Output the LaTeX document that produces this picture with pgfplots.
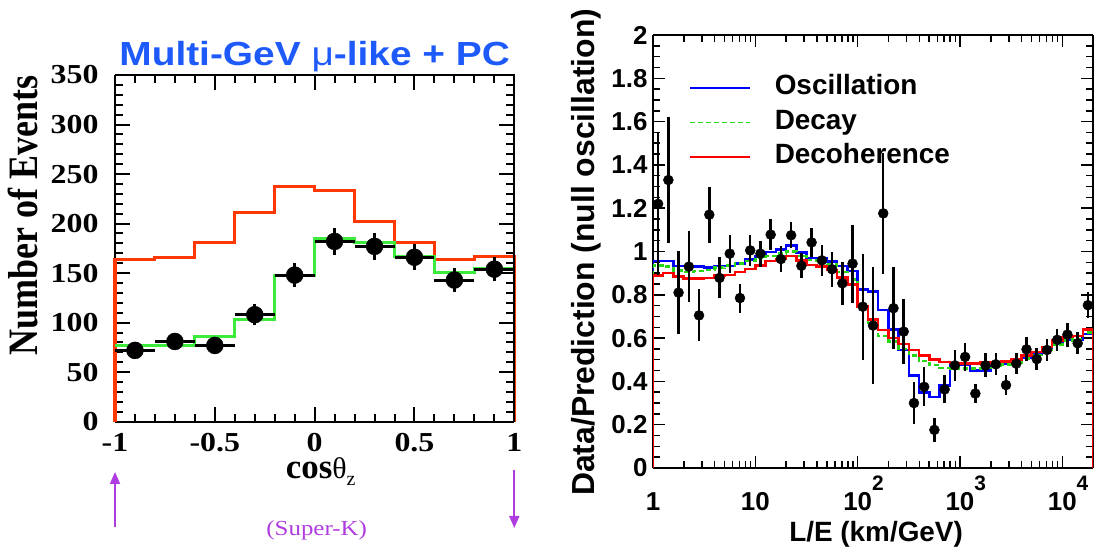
\documentclass[border=0pt]{standalone}
\usepackage{fontspec}
\setmainfont{Liberation Serif}
\setsansfont{Liberation Sans}
\usepackage{pgfplots}
\usepackage{pgfplotstable}
\pgfplotsset{compat=1.18}
\usetikzlibrary{arrows.meta}
\definecolor{titleblue}{RGB}{30,90,250}
\definecolor{kpurple}{RGB}{175,60,225}
\definecolor{lred}{RGB}{255,55,0}
\definecolor{lgreen}{RGB}{60,235,60}
\definecolor{rgreen}{RGB}{40,215,20}
\newcommand{\sq}[1]{\scalebox{1}[0.86]{#1}}

\pgfplotstableread{
x y ex ey
-0.9 72 0.1 8.5
-0.7 81 0.1 9.0
-0.5 77 0.1 8.8
-0.3 108 0.1 10.4
-0.1 148 0.1 12.2
0.1 182 0.1 13.5
0.3 177 0.1 13.3
0.5 166 0.1 12.9
0.7 143 0.1 12.0
0.9 154 0.1 12.4
}\leftdata

\pgfplotstableread{
x v
-1 0
-1 164
-0.8 166
-0.6 181
-0.4 211
-0.2 237
0 233
0.2 202
0.4 181
0.6 164
0.8 167
1 167
1 0
}\leftred

\pgfplotstableread{
x v
-1 77
-0.8 77
-0.6 86
-0.4 103
-0.2 148
0 185
0.2 181
0.4 167
0.6 151
0.8 155
1 155
}\leftgreen

\pgfplotstableread{
x y ey
1.122 1.22 0.33
1.413 1.33 0.29
1.778 0.81 0.19
2.239 0.93 0.165
2.818 0.705 0.12
3.548 1.17 0.13
4.467 0.878 0.095
5.623 0.99 0.088
7.079 0.785 0.067
8.913 1.005 0.07
11.22 0.99 0.06
14.13 1.078 0.07
17.78 0.965 0.06
22.39 1.075 0.06
28.18 0.934 0.057
35.48 1.042 0.066
44.67 0.959 0.07
56.23 0.918 0.08
70.79 0.853 0.10
89.13 0.944 0.18
112.2 0.745 0.245
141.3 0.658 0.27
177.8 1.176 0.28
223.9 0.738 0.19
281.8 0.63 0.15
354.8 0.30 0.095
446.7 0.375 0.09
562.3 0.176 0.055
707.9 0.363 0.065
891.3 0.474 0.07
1122 0.513 0.065
1413 0.344 0.045
1778 0.474 0.055
2239 0.479 0.05
2818 0.383 0.045
3548 0.482 0.05
4467 0.548 0.055
5623 0.503 0.05
7079 0.545 0.05
8913 0.592 0.05
11220 0.616 0.055
14130 0.576 0.05
17780 0.752 0.06
}\rightdata

\pgfplotstableread{
x b g r
1 0 0 0
1 0.956 0.935 0.890
1.2589 0.956 0.930 0.900
1.5849 0.934 0.912 0.885
1.9953 0.934 0.905 0.875
2.5119 0.930 0.910 0.875
3.1623 0.926 0.915 0.878
3.9811 0.934 0.925 0.890
5.0119 0.934 0.935 0.892
6.3096 0.945 0.945 0.905
7.9433 0.964 0.955 0.920
10 0.980 0.970 0.935
12.589 0.997 0.980 0.955
15.849 1.010 0.990 0.965
19.953 1.027 1.000 0.980
25.119 0.995 0.980 0.958
31.623 0.970 0.960 0.937
39.811 0.970 0.955 0.930
50.119 0.953 0.940 0.915
63.096 0.934 0.905 0.880
79.433 0.910 0.870 0.848
100 0.824 0.745 0.745
125.89 0.816 0.670 0.685
158.49 0.730 0.610 0.637
199.53 0.639 0.585 0.600
251.19 0.545 0.550 0.572
316.23 0.427 0.520 0.546
398.11 0.349 0.495 0.520
501.19 0.328 0.475 0.500
630.96 0.380 0.462 0.490
794.33 0.482 0.460 0.485
1000 0.479 0.460 0.482
1258.9 0.451 0.460 0.482
1584.9 0.451 0.462 0.487
1995.3 0.470 0.470 0.490
2511.9 0.482 0.478 0.492
3162.3 0.490 0.488 0.500
3981.1 0.510 0.505 0.520
5011.9 0.529 0.522 0.535
6309.6 0.548 0.548 0.560
7943.3 0.576 0.570 0.590
10000 0.592 0.588 0.605
12589 0.592 0.596 0.610
15849 0.620 0.625 0.640
19953 0.620 0.625 0.640
19953 0 0 0
}\righthist

\begin{document}
\begin{tikzpicture}
\path[use as bounding box] (0,0) rectangle (1096bp,558bp);

% ---------------- left panel ----------------
\begin{axis}[
  at={(115bp,136.3bp)}, anchor=south west,
  scale only axis, width=399.3bp, height=346.7bp,
  xmin=-1, xmax=1, ymin=0, ymax=350,
  axis x line*=bottom, axis y line*=left,
  xtick={-1,-0.5,0,0.5,1},
  xticklabels={\sq{-1},\sq{-0.5},\sq{0},\sq{0.5},\sq{1}},
  ytick={0,50,100,150,200,250,300,350},
  yticklabels={\sq{0},\sq{50},\sq{100},\sq{150},\sq{200},\sq{250},\sq{300},\sq{350}},
  minor x tick num=4, minor y tick num=4,
  tick align=inside,
  major tick length=15bp, minor tick length=8bp,
  tick style={black, line width=2bp},
  axis line style={line width=2bp, black},
  tick label style={font=\fontsize{32}{32}\selectfont\bfseries},
  yticklabel style={xshift=-13bp},
  xticklabel style={anchor=base, yshift=-30bp, inner sep=0pt},
  ylabel={\scalebox{0.86}[1]{Number of Events}},
  ylabel style={font=\fontsize{42}{42}\selectfont\bfseries,
    at={(axis description cs:-0.1933,0.594)}, anchor=base},
  xlabel={{\fontsize{35}{35}\selectfont\bfseries cos}{\fontsize{30}{30}\selectfont θ}\raisebox{-7bp}{\fontsize{20}{20}\selectfont z}},
  xlabel style={at={(axis description cs:0.5152,-0.165)}, anchor=base, inner sep=0pt},
  title={\sq{Multi-GeV {\mdseries μ}-like + PC}},
  title style={font=\fontsize{39}{39}\selectfont\sffamily\bfseries, text=titleblue,
    at={(axis description cs:0.5,1.0095)}, anchor=base},
  clip=false,
]
\draw[black, line width=2bp] (rel axis cs:0,1) -- (rel axis cs:1,1) -- (rel axis cs:1,0);
\addplot[const plot mark left, lred, line width=3bp, mark=none] table[x=x,y=v] {\leftred};
\addplot[const plot mark left, lgreen, line width=3bp, mark=none] table[x=x,y=v] {\leftgreen};
\addplot[only marks, mark=*, mark size=8.5bp, black,
  error bars/.cd, x dir=both, x explicit, y dir=both, y explicit,
  error bar style={line width=3bp, black}, error mark=none]
  table[x=x, y=y, x error=ex, y error=ey] {\leftdata};
\draw[kpurple, line width=1.8bp, -{Triangle[length=12bp,width=10bp]}]
  (rel axis cs:0,-0.3037) -- (rel axis cs:0,-0.145);
\draw[kpurple, line width=1.8bp, -{Triangle[length=12bp,width=10bp]}]
  (rel axis cs:1,-0.1393) -- (rel axis cs:1,-0.3066);
\node[kpurple, anchor=base, font=\fontsize{25}{25}\selectfont]
  at (rel axis cs:0.505,-0.3268) {\sq{(Super-K)}};
\end{axis}

% left panel ticks (symmetric tick sets, drawn from the mirrored side)
\begin{axis}[
  at={(115bp,136.3bp)}, anchor=south west,
  scale only axis, width=399.3bp, height=346.7bp,
  xmin=-1, xmax=1, ymin=0, ymax=350,
  x dir=reverse, y dir=reverse,
  axis x line*=top, axis y line*=right,
  xtick={-1,-0.5,0,0.5,1},
  ytick={0,50,100,150,200,250,300,350},
  xticklabels={}, yticklabels={},
  minor x tick num=4, minor y tick num=4,
  tick align=inside,
  major tick length=15bp, minor tick length=8bp,
  tick style={black, line width=2bp},
  axis line style={line width=2bp, black},
]
\end{axis}

% ---------------- right panel: top/right ticks ----------------
\begin{axis}[
  at={(653bp,90bp)}, anchor=south west,
  scale only axis, width=440bp, height=433bp,
  xmode=log, xmin=1, xmax=19953, ymin=0, ymax=2,
  axis x line*=top, axis y line*=right,
  xtick={1,10,100,1000,10000},
  ytick={0,0.2,0.4,0.6,0.8,1,1.2,1.4,1.6,1.8,2},
  xticklabels={}, yticklabels={},
  minor y tick num=3,
  tick align=inside,
  major tick length=12bp, minor tick length=7bp,
  tick style={black, line width=1.5bp},
  axis line style={line width=2bp, black},
]
\end{axis}

% right panel: bottom ticks
\begin{axis}[
  at={(653bp,90bp)}, anchor=south west,
  scale only axis, width=440bp, height=433bp,
  xmode=log, xmin=1, xmax=19953, ymin=0, ymax=2,
  y dir=reverse,
  axis x line*=top, axis y line=none,
  xtick={1,10,100,1000,10000},
  xticklabels={},
  tick align=inside,
  major tick length=12bp, minor tick length=7bp,
  tick style={black, line width=1.5bp},
  axis line style={line width=2bp, black},
]
\end{axis}

% right panel: left ticks
\begin{axis}[
  at={(653bp,90bp)}, anchor=south west,
  scale only axis, width=440bp, height=433bp,
  xmode=log, xmin=1, xmax=19953, ymin=0, ymax=2,
  x dir=reverse,
  axis x line=none, axis y line*=right,
  ytick={0,0.2,0.4,0.6,0.8,1,1.2,1.4,1.6,1.8,2},
  yticklabels={},
  minor y tick num=3,
  tick align=inside,
  major tick length=12bp, minor tick length=7bp,
  tick style={black, line width=1.5bp},
  axis line style={line width=2bp, black},
]
\end{axis}

% ---------------- right panel ----------------
\begin{axis}[
  at={(653bp,90bp)}, anchor=south west,
  scale only axis, width=440bp, height=433bp,
  xmode=log, xmin=1, xmax=19953, ymin=0, ymax=2,
  axis x line*=bottom, axis y line*=left,
  xtick={1,10,100,1000,10000},
  ytick={0,0.2,0.4,0.6,0.8,1,1.2,1.4,1.6,1.8,2},
  minor y tick num=3,
  tick align=inside,
  major tick length=12bp, minor tick length=7bp,
  tick style={black, line width=1.5bp},
  axis line style={line width=2bp, black},
  xticklabels={1,10,10\rlap{\raisebox{20bp}{\fontsize{21}{21}\selectfont 2}},10\rlap{\raisebox{20bp}{\fontsize{21}{21}\selectfont 3}},10\rlap{\raisebox{20bp}{\fontsize{21}{21}\selectfont 4}}},
  yticklabels={0,0.2,0.4,0.6,0.8,1,1.2,1.4,1.6,1.8,2},
  tick label style={font=\fontsize{26}{26}\selectfont\sffamily\bfseries},
  yticklabel style={xshift=-2bp},
  xticklabel style={anchor=base, yshift=-42bp},
  ylabel={Data/Prediction (null oscillation)},
  ylabel style={font=\fontsize{32}{32}\selectfont\sffamily\bfseries,
    at={(axis description cs:-0.133,0.498)}, anchor=base},
  xlabel={L/E (km/GeV)},
  xlabel style={font=\fontsize{28}{28}\selectfont\sffamily\bfseries,
    at={(axis description cs:0.507,-0.170)}, anchor=base},
  legend style={at={(axis description cs:0.082,0.913)}, anchor=north west,
    draw=none, fill=none, inner sep=0pt,
    font=\fontsize{28}{28}\selectfont\sffamily\bfseries, row sep=4.5bp,
    nodes={inner sep=2bp, text height=20bp, text depth=6bp},
    /tikz/every odd column/.append style={column sep=22bp}},
  legend cell align=left,
  legend image code/.code={\draw[#1, line width=1.5bp] (0bp,0bp) -- (60bp,0bp);},
]
\addplot[const plot mark left, blue, line width=2.5bp, mark=none] table[x=x,y=b] {\righthist};
\addlegendentry{Oscillation}
\addplot[const plot mark left, rgreen, line width=2.5bp, dash pattern=on 5bp off 3bp, mark=none] table[x=x,y=g] {\righthist};
\addlegendentry{Decay}
\addplot[const plot mark left, red, line width=2.5bp, mark=none] table[x=x,y=r] {\righthist};
\addlegendentry{Decoherence}
\addplot[forget plot, only marks, mark=*, mark size=5bp, black,
  error bars/.cd, y dir=both, y explicit,
  error bar style={line width=2.5bp, black}, error mark=none]
  table[x=x, y=y, y error=ey] {\rightdata};
\end{axis}
\end{tikzpicture}
\end{document}
